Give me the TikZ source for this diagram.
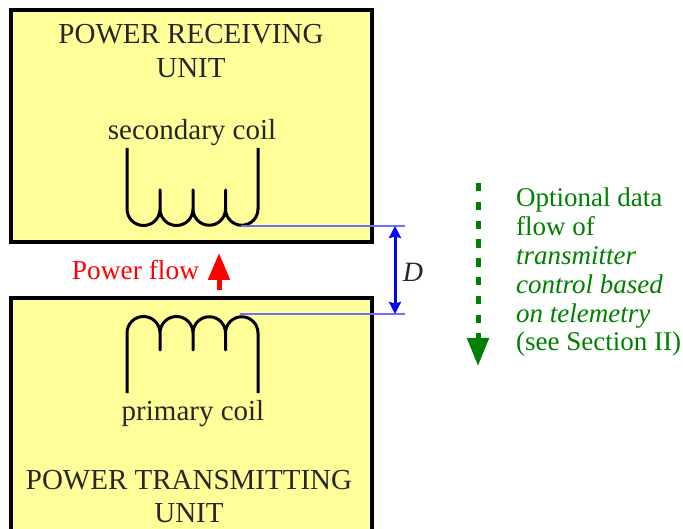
\documentclass[tikz,border=0pt]{standalone}
\usepackage{fontspec}
\setmainfont{Liberation Serif}
\usetikzlibrary{arrows.meta,positioning}
\definecolor{unityellow}{RGB}{255, 255, 153}
\definecolor{gapblue}{RGB}{110, 110, 255}
\definecolor{dataflowgreen}{RGB}{0, 128, 0}
\tikzset{
  unitbox/.style={line width=4pt, draw=black, fill=unityellow},
  coilline/.style={line width=3pt, line join=round},
  gapline/.style={line width=1.6pt, color=gapblue},
  unitlabel/.style={font=\fontsize{29}{29}\selectfont, color=black!85},
  coillabel/.style={font=\fontsize{29}{29}\selectfont, color=black!85},
  datalabel/.style={font=\fontsize{27}{28.8}\selectfont, color=dataflowgreen, align=left, anchor=north west}
}

\begin{document}
\begin{tikzpicture}[x=1pt, y=-1pt]
        \useasboundingbox (0,0) rectangle (683,529);
        \clip (0,0) rectangle (683,529);

        % Power receiving unit
        \draw[unitbox] (11,10) rectangle (372,242);
        \node[unitlabel] (rxtitle) at (191,34) {POWER RECEIVING};
        \node[unitlabel] (rxunit) at (191,68) {UNIT};
        \node[coillabel] (rxlabel) at (192,133) {secondary coil};

        % Secondary coil
        \draw[coilline] (127,148) -- (127,209) arc[start angle=180, end angle=0, radius=16.5]
            -- (160,190) -- (160,209) arc[start angle=180, end angle=0, radius=16.5]
            -- (193,190) -- (193,209) arc[start angle=180, end angle=0, radius=16.25]
            -- (225.5,190) -- (225.5,209) arc[start angle=180, end angle=0, radius=16.25] -- (258,148);

        % Power transmitting unit
        \draw[unitbox] (11,298) rectangle (372,560);
        \node[coillabel] (txlabel) at (193,414) {primary coil};
        \node[unitlabel] (txtitle) at (189,480) {POWER TRANSMITTING};
        \node[unitlabel] (txunit) at (189,513) {UNIT};

        % Primary coil
        \draw[coilline] (127,393) -- (127,333) arc[start angle=180, end angle=360, radius=16.5]
            -- (160,350) -- (160,333) arc[start angle=180, end angle=360, radius=16.5]
            -- (193,350) -- (193,333) arc[start angle=180, end angle=360, radius=16.25]
            -- (225.5,350) -- (225.5,333) arc[start angle=180, end angle=360, radius=16.25] -- (258,393);

        % Separation D
        \coordinate (rxtap) at (241,226);
        \coordinate (rxend) at (405,226);
        \coordinate (txtap) at (240,314);
        \coordinate (txend) at (405,314);
        \coordinate (gaptop) at (395,226);
        \coordinate (gapbot) at (395,314);
        \draw[gapline] (rxtap) -- (rxend);
        \draw[gapline] (txtap) -- (txend);
        \draw[{Stealth[length=12pt, width=12pt, inset=1.5pt]}-{Stealth[length=12pt, width=12pt, inset=1.5pt]}, line width=3pt, color=blue] (gaptop) -- (gapbot);
        \node[font=\fontsize{28}{28}\selectfont\itshape, color=black!85] (gaplabel) at (413,272) {D};

        % Power flow
        \node[font=\fontsize{27.4}{27.4}\selectfont, color=red] (powerlabel) at (135.5,270) {Power flow};
        \coordinate (powerstart) at (219,290);
        \coordinate (powertip) at (219,253);
        \draw[-{Stealth[length=27pt, width=21pt, inset=0pt]}, line width=5pt, color=red] (powerstart) -- (powertip);

        % Optional data flow
        \coordinate (datastart) at (478,183);
        \coordinate (datatip) at (478,366);
        \draw[-{Stealth[length=28pt, width=21pt, inset=0pt]}, line width=5pt, color=dataflowgreen, dash pattern=on 8.5pt off 10.3pt] (datastart) -- (datatip);
        \node[datalabel, inner sep=0pt] (datalabel) at (516,188) {Optional data\\flow of\\\textit{transmitter}\\\textit{control based}\\\textit{on telemetry}\\(see Section II)};
    \end{tikzpicture}
\end{document}
